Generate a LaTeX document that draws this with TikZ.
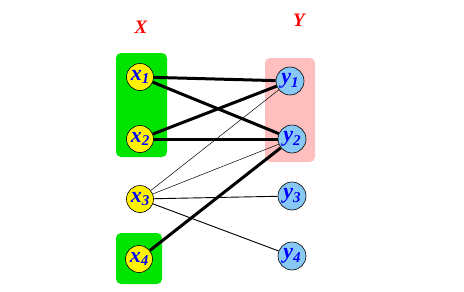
\documentclass[tikz,border=0pt]{standalone}
\usepackage{fontspec}
\setmainfont{Liberation Serif}
\newcommand{\lbl}[2]{#1\raisebox{-3.5pt}{\fontsize{15}{15}\selectfont #2}}
\begin{document}
\begin{tikzpicture}[x=1pt,y=-1pt,
  xnode/.style={circle,draw=black,line width=0.6pt,fill=yellow,minimum size=27pt,inner sep=0pt,text=blue,font=\fontsize{22}{22}\selectfont\bfseries\itshape},
  ynode/.style={circle,draw=black,line width=0.6pt,fill=lightblue,minimum size=28pt,inner sep=0pt,text=blue,font=\fontsize{22}{22}\selectfont\bfseries\itshape},
  heavy/.style={line width=3pt},
  light/.style={line width=0.5pt},
  mid/.style={line width=0.9pt},
  setlabel/.style={text=red,font=\fontsize{19}{19}\selectfont\bfseries\itshape},
  greenbox/.style={fill=green!90!black,rounded corners=5pt},
  pinkbox/.style={fill=red!25,rounded corners=5pt}]
\definecolor{lightblue}{RGB}{135,200,245}
\useasboundingbox (0,0) rectangle (464,292);
\fill[greenbox] (116,53) rectangle (167,157);
\fill[greenbox] (116,233) rectangle (162,284);
\fill[pinkbox] (265,58) rectangle (315,162);
\node[setlabel] (X) at (141,27) {X};
\node[setlabel] (Y) at (299,20) {Y};
\node[xnode] (x1) at (140,77) {\lbl{x}{1}};
\node[xnode] (x2) at (140,139) {\lbl{x}{2}};
\node[xnode] (x3) at (140,199) {\lbl{x}{3}};
\node[xnode] (x4) at (139,259) {\lbl{x}{4}};
\node[ynode] (y1) at (290,81) {\lbl{y}{1}};
\node[ynode] (y2) at (292,139) {\lbl{y}{2}};
\node[ynode] (y3) at (292,196) {\lbl{y}{3}};
\node[ynode] (y4) at (292,256) {\lbl{y}{4}};
\draw[heavy] (x1) -- (y1);
\draw[heavy] (x1) -- (y2);
\draw[heavy] (x2) -- (y1);
\draw[heavy] (x2) -- (y2);
\draw[heavy] (x4) -- (y2);
\draw[light] (x3) -- (y1);
\draw[light] (x3) -- (y2);
\draw[mid] (x3) -- (y3);
\draw[mid] (x3) -- (y4);
\end{tikzpicture}
\end{document}
